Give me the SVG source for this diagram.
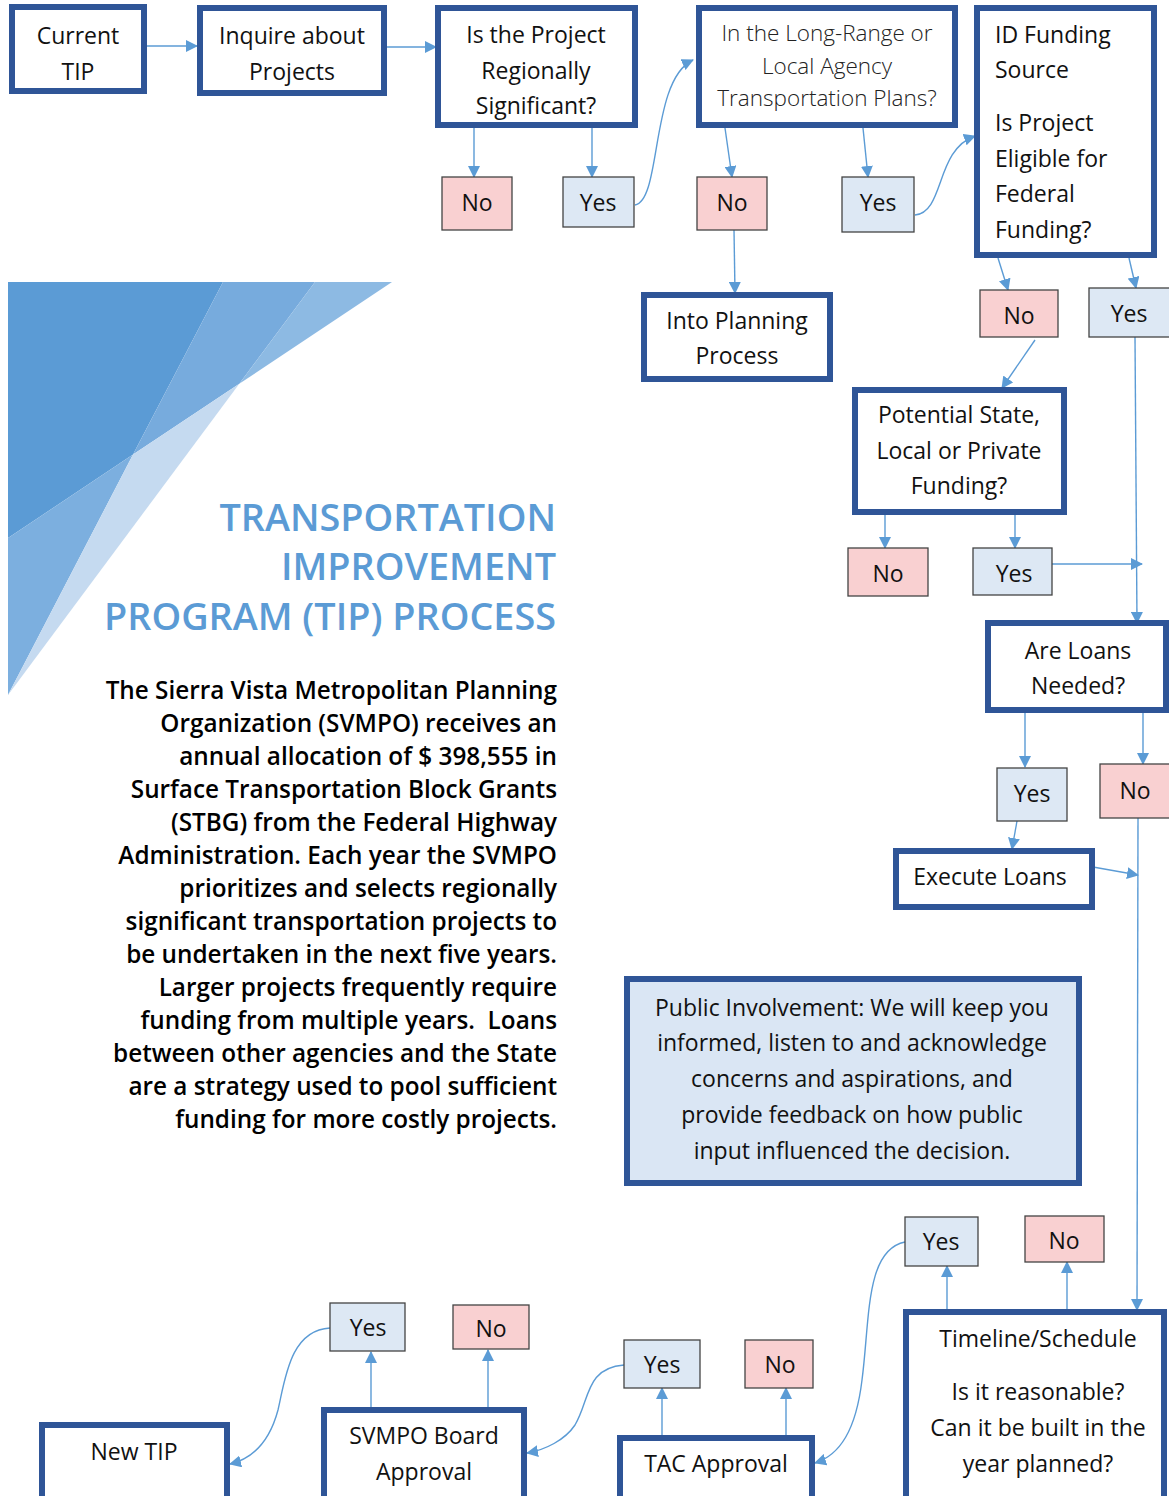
<svg xmlns="http://www.w3.org/2000/svg" width="1169" height="1496" viewBox="0 0 1169 1496">
<style>
.node{fill:#fff;stroke:#2f5597;stroke-width:6}
.pi{fill:#dae6f4;stroke:#2f5597;stroke-width:6}
.no{fill:#f9d0d1;stroke:#444;stroke-width:1.3}
.yes{fill:#dde8f4;stroke:#444;stroke-width:1.3}
text{font-family:"Open Sans","Noto Sans","DejaVu Sans",sans-serif;fill:#111}
.t{font-size:23px;text-anchor:middle}
.tl{font-size:23px}
.ts{font-size:22.5px;font-weight:300;text-anchor:middle;fill:#222}
.title{font-size:37.8px;font-weight:600;fill:#5b9bd5;text-anchor:end}
.body{font-size:24.3px;font-weight:600;text-anchor:end;fill:#000}
.c path,.c line{fill:none;stroke:#5b9bd5;stroke-width:1.4;marker-end:url(#ah)}
</style>
<defs>
<marker id="ah" markerUnits="userSpaceOnUse" markerWidth="12" markerHeight="12" refX="11" refY="6" orient="auto" viewBox="0 0 12 12">
<path d="M0,0 L12,6 L0,12 z" fill="#5b9bd5"/>
</marker>
</defs>
<rect width="1169" height="1496" fill="#fff"/>

<g id="decor">
<polygon points="8,282 223,282 133,454.6 8,538" fill="#5b9bd5"/>
<polygon points="223,282 315,282 239.3,383.8 133,454.6" fill="#77abdd"/>
<polygon points="315,282 392,282 239.3,383.8" fill="#8dbae3"/>
<polygon points="8,538 133,454.6 8,695" fill="#7cafdf"/>
<polygon points="133,454.6 239.3,383.8 8,695" fill="#c5daf0"/>
</g>

<g id="title">
<text class="title" x="556" y="531">TRANSPORTATION</text>
<text class="title" x="556" y="580">IMPROVEMENT</text>
<text class="title" x="556" y="630">PROGRAM (TIP) PROCESS</text>
</g>

<g id="description">
<text class="body" x="557" y="699">The Sierra Vista Metropolitan Planning</text>
<text class="body" x="557" y="732">Organization (SVMPO) receives an</text>
<text class="body" x="557" y="765">annual allocation of $ 398,555 in</text>
<text class="body" x="557" y="798">Surface Transportation Block Grants</text>
<text class="body" x="557" y="831">(STBG) from the Federal Highway</text>
<text class="body" x="557" y="864">Administration. Each year the SVMPO</text>
<text class="body" x="557" y="897">prioritizes and selects regionally</text>
<text class="body" x="557" y="930">significant transportation projects to</text>
<text class="body" x="557" y="963">be undertaken in the next five years.</text>
<text class="body" x="557" y="996">Larger projects frequently require</text>
<text class="body" x="557" y="1029" xml:space="preserve">funding from multiple years.  Loans</text>
<text class="body" x="557" y="1062">between other agencies and the State</text>
<text class="body" x="557" y="1095">are a strategy used to pool sufficient</text>
<text class="body" x="557" y="1128">funding for more costly projects.</text>
</g>

<g class="c" id="connectors">
<line x1="147" y1="46" x2="197" y2="46"/>
<line x1="387" y1="47" x2="436" y2="47"/>
<line x1="474" y1="128" x2="474" y2="177"/>
<line x1="592" y1="128" x2="592" y2="177"/>
<path d="M635,205 C662,200 650,80 693,60"/>
<line x1="725" y1="128" x2="732" y2="177"/>
<line x1="863" y1="128" x2="868" y2="177"/>
<path d="M915,215 C945,212 935,150 975,136"/>
<line x1="734" y1="230" x2="735" y2="293"/>
<line x1="998" y1="258" x2="1008" y2="290"/>
<line x1="1129" y1="258" x2="1136" y2="288"/>
<line x1="1035" y1="340" x2="1002" y2="388"/>
<path d="M1135,337 L1137,623"/>
<line x1="885" y1="515" x2="885" y2="548"/>
<line x1="1015" y1="515" x2="1015" y2="548"/>
<line x1="1052" y1="564" x2="1142" y2="564"/>
<line x1="1025" y1="713" x2="1025" y2="767"/>
<line x1="1143" y1="713" x2="1143" y2="764"/>
<line x1="1017" y1="821" x2="1012" y2="849"/>
<line x1="1093" y1="867" x2="1138" y2="875"/>
<path d="M1138,818 L1137,1310"/>
<line x1="947" y1="1311" x2="947" y2="1266"/>
<line x1="1067" y1="1311" x2="1067" y2="1262"/>
<path d="M905,1242 C865,1250 870,1320 862,1380 C856,1430 840,1455 815,1463"/>
<line x1="662" y1="1435" x2="662" y2="1388"/>
<line x1="786" y1="1435" x2="786" y2="1388"/>
<path d="M624,1365 C585,1368 590,1400 575,1425 C565,1440 545,1450 527,1453"/>
<line x1="371" y1="1407" x2="371" y2="1352"/>
<line x1="488" y1="1407" x2="488" y2="1350"/>
<path d="M330,1328 C290,1330 285,1380 278,1410 C270,1440 255,1458 230,1464"/>
</g>

<g id="current-tip"><rect class="node" x="12" y="7" width="132" height="84"/>
<text class="t" x="78" y="44">Current</text><text class="t" x="78" y="80">TIP</text></g>
<g id="inquire"><rect class="node" x="200" y="8" width="184" height="85"/>
<text class="t" x="292" y="44">Inquire about</text><text class="t" x="292" y="80">Projects</text></g>
<g id="regionally"><rect class="node" x="438" y="8" width="197" height="117"/>
<text class="t" x="536" y="43">Is the Project</text><text class="t" x="536" y="79">Regionally</text><text class="t" x="536" y="114">Significant?</text></g>
<g id="longrange"><rect class="node" x="699" y="8" width="256" height="117"/>
<text class="ts" x="827" y="41">In the Long-Range or</text><text class="ts" x="827" y="74">Local Agency</text><text class="ts" x="827" y="106">Transportation Plans?</text></g>
<g id="idfunding"><rect class="node" x="977" y="8" width="177" height="247"/>
<text class="tl" x="995" y="43">ID Funding</text><text class="tl" x="995" y="78">Source</text>
<text class="tl" x="995" y="131">Is Project</text><text class="tl" x="995" y="167">Eligible for</text><text class="tl" x="995" y="202">Federal</text><text class="tl" x="995" y="238">Funding?</text></g>

<g id="no1"><rect class="no" x="442" y="177" width="70" height="53"/><text class="t" x="477" y="211">No</text></g>
<g id="yes1"><rect class="yes" x="563" y="177" width="71" height="50"/><text class="t" x="598" y="211">Yes</text></g>
<g id="no2"><rect class="no" x="697" y="177" width="70" height="53"/><text class="t" x="732" y="211">No</text></g>
<g id="yes2"><rect class="yes" x="842" y="177" width="72" height="55"/><text class="t" x="878" y="211">Yes</text></g>
<g id="no3"><rect class="no" x="980" y="290" width="78" height="47"/><text class="t" x="1019" y="324">No</text></g>
<g id="yes3"><rect class="yes" x="1089" y="288" width="85" height="49"/><text class="t" x="1129" y="322">Yes</text></g>

<g id="planning"><rect class="node" x="644" y="295" width="186" height="84"/>
<text class="t" x="737" y="329">Into Planning</text><text class="t" x="737" y="364">Process</text></g>
<g id="potential"><rect class="node" x="855" y="390" width="209" height="122"/>
<text class="t" x="959" y="423">Potential State,</text><text class="t" x="959" y="459">Local or Private</text><text class="t" x="959" y="494">Funding?</text></g>
<g id="no4"><rect class="no" x="848" y="548" width="80" height="48"/><text class="t" x="888" y="582">No</text></g>
<g id="yes4"><rect class="yes" x="973" y="548" width="79" height="47"/><text class="t" x="1014" y="582">Yes</text></g>

<g id="loans"><rect class="node" x="988" y="623" width="178" height="87"/>
<text class="t" x="1078" y="659">Are Loans</text><text class="t" x="1078" y="694">Needed?</text></g>
<g id="yes5"><rect class="yes" x="997" y="768" width="70" height="53"/><text class="t" x="1032" y="802">Yes</text></g>
<g id="no5"><rect class="no" x="1100" y="764" width="75" height="54"/><text class="t" x="1135" y="799">No</text></g>
<g id="execute"><rect class="node" x="896" y="851" width="196" height="56"/>
<text class="t" x="990" y="885">Execute Loans</text></g>

<g id="public"><rect class="pi" x="627" y="979" width="452" height="204"/>
<text class="t" x="852" y="1016">Public Involvement: We will keep you</text>
<text class="t" x="852" y="1051">informed, listen to and acknowledge</text>
<text class="t" x="852" y="1087">concerns and aspirations, and</text>
<text class="t" x="852" y="1123">provide feedback on how public</text>
<text class="t" x="852" y="1159">input influenced the decision.</text></g>

<g id="timeline"><rect class="node" x="906" y="1312" width="258" height="200"/>
<text class="t" x="1038" y="1347">Timeline/Schedule</text>
<text class="t" x="1038" y="1400">Is it reasonable?</text>
<text class="t" x="1038" y="1436">Can it be built in the</text>
<text class="t" x="1038" y="1472">year planned?</text></g>
<g id="yes6"><rect class="yes" x="905" y="1217" width="73" height="49"/><text class="t" x="941" y="1250">Yes</text></g>
<g id="no6"><rect class="no" x="1025" y="1216" width="79" height="46"/><text class="t" x="1064" y="1249">No</text></g>

<g id="tac"><rect class="node" x="620" y="1438" width="192" height="70"/>
<text class="t" x="716" y="1472">TAC Approval</text></g>
<g id="yes7"><rect class="yes" x="624" y="1340" width="76" height="48"/><text class="t" x="662" y="1373">Yes</text></g>
<g id="no7"><rect class="no" x="745" y="1340" width="68" height="48"/><text class="t" x="780" y="1373">No</text></g>

<g id="svmpo"><rect class="node" x="324" y="1410" width="200" height="95"/>
<text class="t" x="424" y="1444">SVMPO Board</text><text class="t" x="424" y="1480">Approval</text></g>
<g id="yes8"><rect class="yes" x="330" y="1303" width="75" height="48"/><text class="t" x="368" y="1336">Yes</text></g>
<g id="no8"><rect class="no" x="453" y="1305" width="76" height="44"/><text class="t" x="491" y="1337">No</text></g>

<g id="newtip"><rect class="node" x="42" y="1425" width="185" height="80"/>
<text class="t" x="134" y="1460">New TIP</text></g>
</svg>
